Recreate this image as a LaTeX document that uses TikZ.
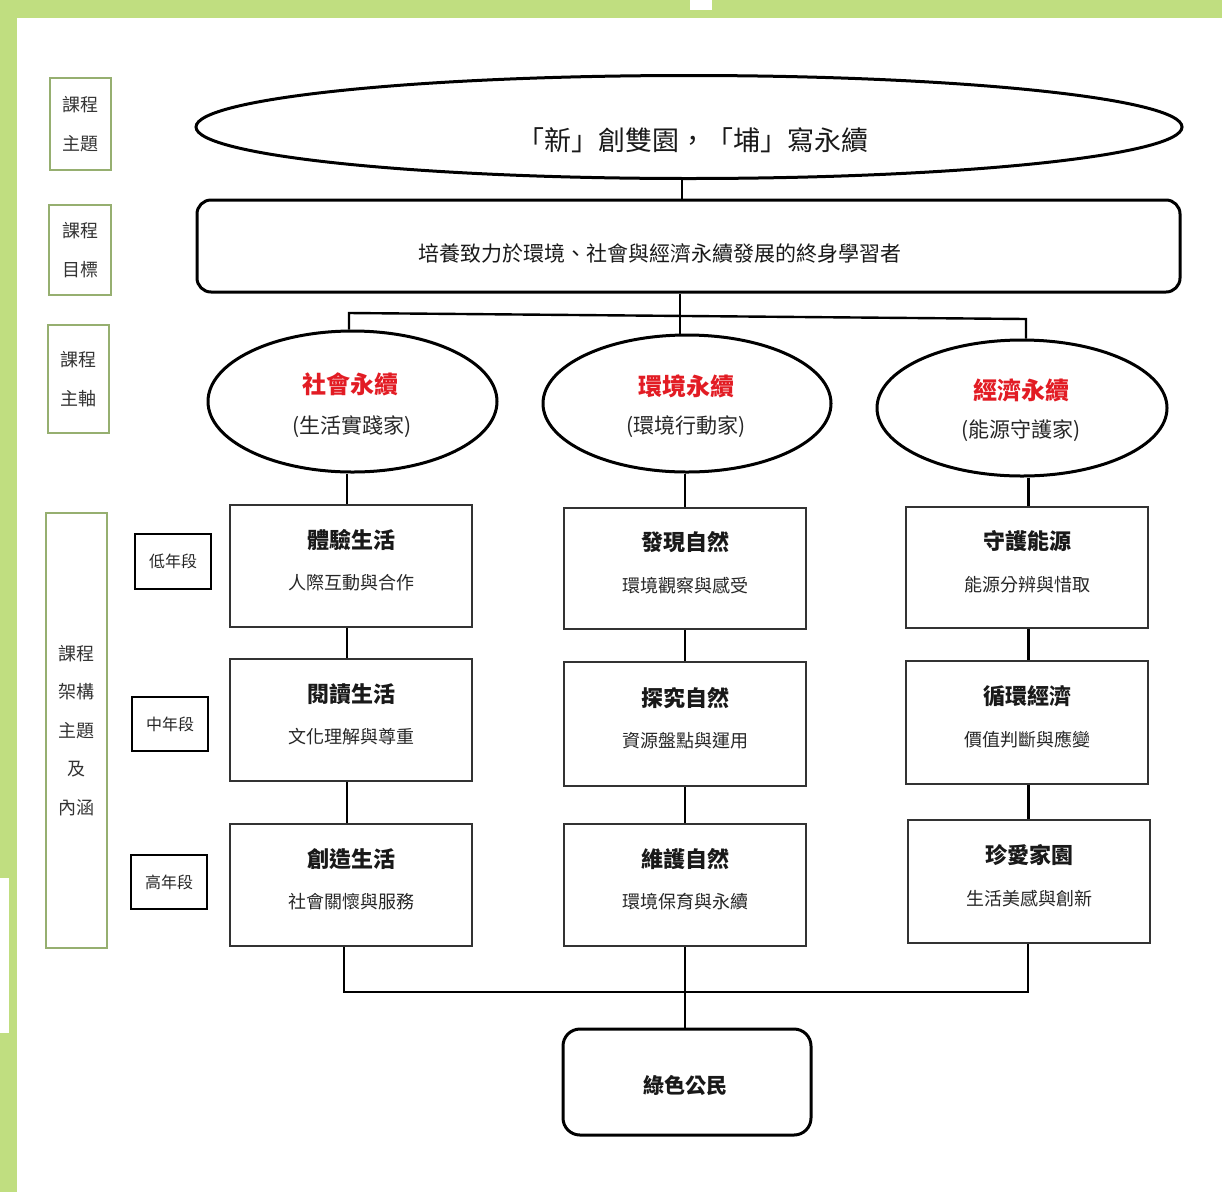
\documentclass[tikz,border=0pt]{standalone}
\usepackage{fontspec}
\setmainfont{Noto Sans CJK TC}
\usetikzlibrary{shapes.geometric}
\definecolor{bggreen}{RGB}{192,222,128}
\definecolor{lblgreen}{RGB}{150,175,112}
\definecolor{titlered}{RGB}{226,28,36}
\newcommand\fsz[1]{\fontsize{#1}{#1}\selectfont}
\tikzset{
  conn/.style={line width=2.4pt, black},
  lblbox/.style={draw=lblgreen, line width=1.5pt, rectangle, inner sep=0pt, align=center,
     text=black!80, font=\fontsize{18}{38.5}\selectfont},
  gradebox/.style={draw=black, line width=1.5pt, rectangle, inner sep=0pt, minimum width=76pt,
     minimum height=54pt, font=\fsz{16}, text=black!85},
  ovalbox/.style={draw=black, line width=3pt, ellipse, inner sep=0pt},
  roundbox/.style={draw=black, line width=3pt, rectangle, rounded corners=14pt, inner sep=0pt},
  stagebox/.style={draw=black!80, line width=1.6pt, rectangle, inner sep=0pt,
     minimum width=242pt},
  redttl/.style={font=\fsz{24}\bfseries, text=titlered, inner sep=0pt},
  subttl/.style={font=\fsz{21}, text=black!85, inner sep=0pt},
  boxttl/.style={font=\fsz{22}\bfseries, text=black!90, inner sep=0pt},
  boxsub/.style={font=\fsz{18}, text=black!85, inner sep=0pt},
}
\begin{document}
\begin{tikzpicture}[x=1pt,y=-1pt]
\useasboundingbox (0,0) rectangle (1222,1192);
% green frame
\fill[bggreen] (0,0) rectangle (1222,18);
\fill[bggreen] (0,0) rectangle (17,1192);
\fill[white] (690,0) rectangle (712,10);
\fill[white] (0,878) rectangle (9,1033);

% left labels
\node[lblbox, minimum width=61pt, minimum height=92pt] (l1) at (80.5,124) {課程\\主題};
\node[lblbox, minimum width=62pt, minimum height=90pt] (l2) at (80,250) {課程\\目標};
\node[lblbox, minimum width=61pt, minimum height=108pt] (l3) at (78.5,379) {課程\\主軸};
\node[lblbox, minimum width=61pt, minimum height=435pt] (l4) at (76.5,730.5) {課程\\架構\\主題\\及\\內涵};

% grade labels
\node[gradebox, minimum height=55pt] (g1) at (173,561.5) {低年段};
\node[gradebox] (g2) at (170,724) {中年段};
\node[gradebox] (g3) at (169,882) {高年段};

% top theme
\node[ovalbox, minimum width=986pt, minimum height=103pt] (T) at (689,127) {};
\node[font=\fsz{27}, text=black!90, inner sep=0pt] (Tt) at (693,140) {「新」創雙園，「埔」寫永續};

% goal
\node[roundbox, minimum width=983pt, minimum height=92pt] (G) at (688.5,246) {};
\node[font=\fsz{21}, text=black!90, inner sep=0pt] (Gt) at (660,253) {培養致力於環境、社會與經濟永續發展的終身學習者};

% axes
\node[ovalbox, minimum width=289pt, minimum height=141pt] (E1) at (352.5,401.5) {};
\node[ovalbox, minimum width=288pt, minimum height=137pt] (E2) at (687,403.5) {};
\node[ovalbox, minimum width=290pt, minimum height=136pt] (E3) at (1022,408) {};
\node[redttl] (E1t) at (350,384) {社會永續};
\node[subttl] (E1s) at (352,427) {(生活實踐家)};
\node[redttl] (E2t) at (686,386) {環境永續};
\node[subttl] (E2s) at (686,427) {(環境行動家)};
\node[redttl] (E3t) at (1021,390) {經濟永續};
\node[subttl] (E3s) at (1021,431) {(能源守護家)};

% stage boxes
\node[stagebox, minimum height=122pt] (b11) at (351,566) {};
\node[stagebox, minimum height=122pt] (b12) at (351,720) {};
\node[stagebox, minimum height=122pt] (b13) at (351,885) {};
\node[stagebox, minimum height=121pt] (b21) at (685,568.5) {};
\node[stagebox, minimum height=124pt] (b22) at (685,724) {};
\node[stagebox, minimum height=122pt] (b23) at (685,885) {};
\node[stagebox, minimum height=121pt] (b31) at (1027,567.5) {};
\node[stagebox, minimum height=123pt] (b32) at (1027,722.5) {};
\node[stagebox, minimum height=123pt] (b33) at (1029,881.5) {};

\node[boxttl] (b11t) at ([yshift=26pt]b11.center) {體驗生活};
\node[boxsub] (b11s) at ([yshift=-17pt]b11.center) {人際互動與合作};
\node[boxttl] (b12t) at ([yshift=26pt]b12.center) {閱讀生活};
\node[boxsub] (b12s) at ([yshift=-17pt]b12.center) {文化理解與尊重};
\node[boxttl] (b13t) at ([yshift=26pt]b13.center) {創造生活};
\node[boxsub] (b13s) at ([yshift=-17pt]b13.center) {社會關懷與服務};
\node[boxttl] (b21t) at ([yshift=26pt]b21.center) {發現自然};
\node[boxsub] (b21s) at ([yshift=-17pt]b21.center) {環境觀察與感受};
\node[boxttl] (b22t) at ([yshift=26pt]b22.center) {探究自然};
\node[boxsub] (b22s) at ([yshift=-17pt]b22.center) {資源盤點與運用};
\node[boxttl] (b23t) at ([yshift=26pt]b23.center) {維護自然};
\node[boxsub] (b23s) at ([yshift=-17pt]b23.center) {環境保育與永續};
\node[boxttl] (b31t) at ([yshift=26pt]b31.center) {守護能源};
\node[boxsub] (b31s) at ([yshift=-17pt]b31.center) {能源分辨與惜取};
\node[boxttl] (b32t) at ([yshift=26pt]b32.center) {循環經濟};
\node[boxsub] (b32s) at ([yshift=-17pt]b32.center) {價值判斷與應變};
\node[boxttl] (b33t) at ([yshift=26pt]b33.center) {珍愛家園};
\node[boxsub] (b33s) at ([yshift=-17pt]b33.center) {生活美感與創新};

% final
\node[roundbox, rounded corners=17pt, minimum width=248pt, minimum height=106pt] (F) at (687,1082) {};
\node[font=\fsz{21}\bfseries, text=black!90, inner sep=0pt] (Ft) at (685,1085) {綠色公民};

% connector coordinates
\coordinate (ct) at (682,0);
\coordinate (cm) at (680,0);
\coordinate (hl) at (349,313);
\coordinate (hr) at (1026,319);
\coordinate (c1) at (347,0);
\coordinate (c2) at (685,0);
\coordinate (c3) at (1028,0);
\coordinate (j1) at (344,992);
\coordinate (j3) at (1028,992);

% connectors
\draw[conn] (ct |- T.south) -- (ct |- G.north);
\draw[conn] (cm |- G.south) -- (cm |- E2.north);
\draw[conn] (hl |- E1.north) -- (hl) -- (hr) -- (hr |- E3.north);
\draw[conn] (c1 |- E1.south) -- (c1 |- b11.north);
\draw[conn] (c1 |- b11.south) -- (c1 |- b12.north);
\draw[conn] (c1 |- b12.south) -- (c1 |- b13.north);
\draw[conn] (c2 |- E2.south) -- (c2 |- b21.north);
\draw[conn] (c2 |- b21.south) -- (c2 |- b22.north);
\draw[conn] (c2 |- b22.south) -- (c2 |- b23.north);
\draw[conn, line width=3pt] (c3 |- E3.south) -- (c3 |- b31.north);
\draw[conn, line width=3pt] (c3 |- b31.south) -- (c3 |- b32.north);
\draw[conn, line width=3pt] (c3 |- b32.south) -- (c3 |- b33.north);
\draw[conn] (j1 |- b13.south) -- (j1) -- (j3) -- (j3 |- b33.south);
\draw[conn] (c2 |- b23.south) -- (c2 |- F.north);
\end{tikzpicture}
\end{document}
